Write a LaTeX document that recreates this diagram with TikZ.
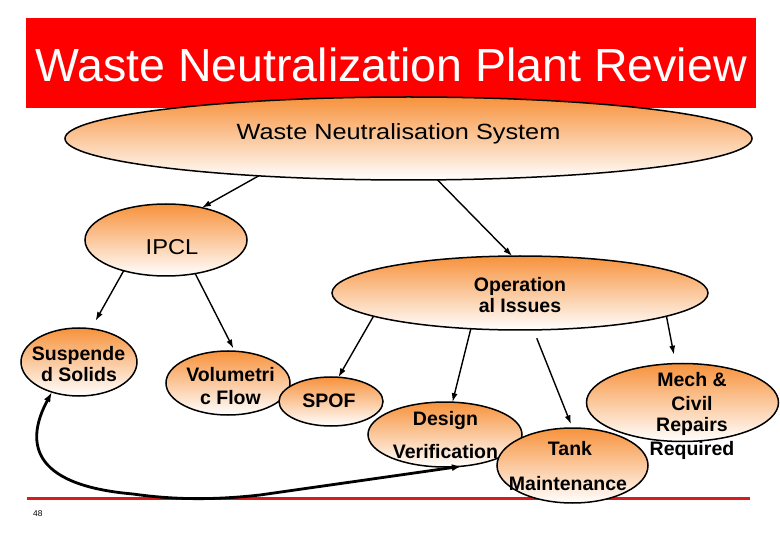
\documentclass[tikz,border=0pt]{standalone}
\usepackage{fontspec}
\setmainfont{Liberation Sans}
\usetikzlibrary{arrows.meta,shapes.geometric}
\definecolor{orgT}{RGB}{247,146,60}
\definecolor{lineRed}{RGB}{214,28,28}
\begin{document}
\begin{tikzpicture}[x=1pt,y=-1pt,
  bub/.style 2 args={ellipse, draw=black, line width=1.5pt, top color=orgT, bottom color=white,
    minimum width=#1, minimum height=#2, inner sep=0pt, outer sep=0pt},
  bt/.style={anchor=base, inner sep=0pt, font=\fontsize{19.5}{22}\selectfont\bfseries},
  arr/.style={line width=1.4pt, -{Latex[length=9pt,width=6pt]}},
  link/.style={line width=2.8pt, {Latex[length=10pt,width=7pt]}-{Latex[length=10pt,width=7pt]}}
]
\useasboundingbox (0,0) rectangle (780,540);
% banner
\node[fill=red, minimum width=730, minimum height=90, inner sep=0pt, anchor=north west] (banner) at (26,18) {};
\node[anchor=base, inner sep=0pt, text=white, font=\fontsize{46.5}{50}\selectfont] (title) at (391,81.7) {Waste Neutralization Plant Review};
% bottom red rule
\coordinate (rl1) at (27,498);
\coordinate (rl2) at (750,498);
\draw[lineRed, line width=3pt] (rl1) -- (rl2);
\node[anchor=base west, inner sep=0pt, font=\fontsize{8.4}{9}\selectfont] (pg) at (33,516) {48};
% ellipses
\node[bub={687}{83}] (ws) at (408.5,138.5) {};
\node[bub={162}{72}] (ipcl) at (166,240) {};
\node[bub={376}{74}] (oi) at (520,293) {};
\node[bub={116}{68}] (ss) at (79,362) {};
\node[bub={124}{64}] (vf) at (228,383) {};
\node[bub={104}{49}] (spof) at (331,401.5) {};
\node[bub={192}{78}] (mc) at (682.5,402.5) {};
\node[bub={154}{65}] (dv) at (445,434.5) {};
\node[bub={151}{75}] (tm) at (572.5,465.5) {};
% arrows
\draw[arr] (ws.194.9) -- (ipcl.42.6);
\draw[arr] (ws.-55.5) -- (oi.102.5);
\draw[arr, shorten >=9pt] (ipcl.216.9) -- (ss.70);
\draw[arr, shorten >=3pt] (ipcl.-49.5) -- (vf.78.5);
\draw[arr] (oi.189.1) -- (spof.73.4);
\draw[arr] (oi.216.1) -- (dv.77.1);
\draw[arr, shorten <=9pt, shorten >=4pt] (oi.-70) -- (tm.90.6);
\draw[arr, shorten >=9pt] (oi.-9.5) -- (mc.100.8);
\draw[link] (ss.228) .. controls (26,440) and (28,485) .. (133,494)
  .. controls (175,500) and (215,500) .. (260,495) -- (dv.-62);
% texts
\node[anchor=base, inner sep=0pt, font=\fontsize{22}{24}\selectfont] (t-ws) at (398.5,140) {\scalebox{1.15}[1]{Waste Neutralisation System}};
\node[anchor=base, inner sep=0pt, font=\fontsize{21.5}{24}\selectfont] (t-ipcl) at (172,254.3) {\scalebox{1.1}[1]{IPCL}};
\node[bt] (t-oi1) at (520,291.3) {Operation};
\node[bt] (t-oi2) at (520,312.5) {al Issues};
\node[bt] (t-ss1) at (78.5,360) {Suspende};
\node[bt] (t-ss2) at (79,381.7) {d Solids};
\node[bt] (t-vf1) at (230.5,381.7) {Volumetri};
\node[bt] (t-vf2) at (230.5,405) {c Flow};
\node[bt] (t-spof) at (329,407.3) {SPOF};
\node[bt] (t-dv1) at (445.5,425) {Design};
\node[bt] (t-dv2) at (445.5,458.3) {Verification};
\node[bt] (t-tm1) at (570,455) {Tank};
\node[bt] (t-tm2) at (568,490.7) {Maintenance};
\node[bt] (t-mc1) at (692,386.7) {Mech \&};
\node[bt] (t-mc2) at (692,410) {Civil};
\node[bt] (t-mc3) at (692,431.7) {Repairs};
\node[bt] (t-mc4) at (692,455) {Required};
\end{tikzpicture}
\end{document}
